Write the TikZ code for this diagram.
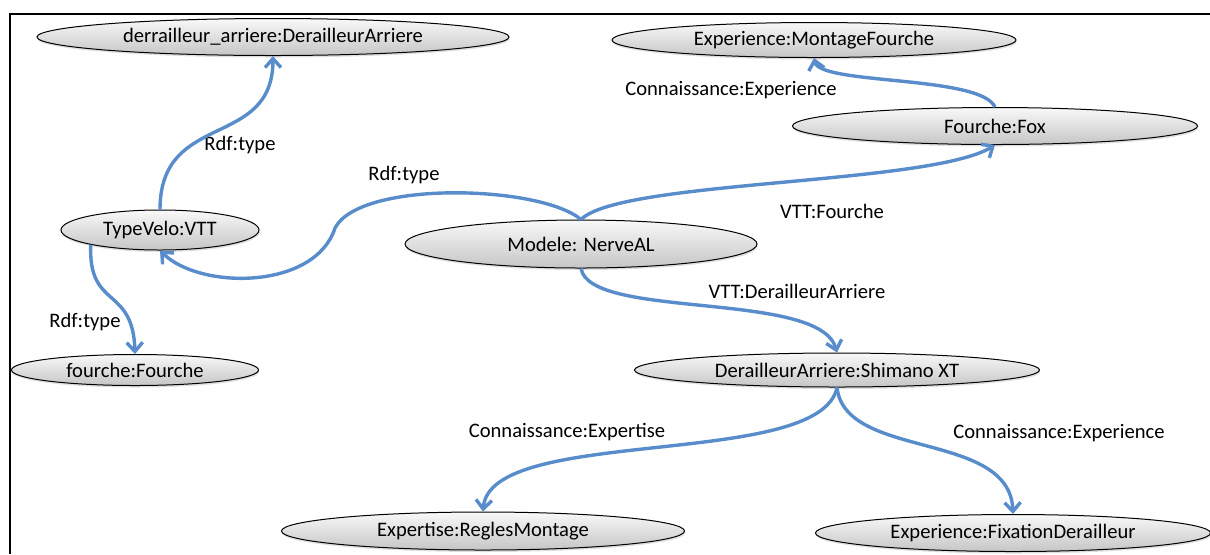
\documentclass[tikz,border=0pt]{standalone}
\usepackage{fontspec}
\setmainfont{Carlito}
\usepackage{tikz}
\usetikzlibrary{shapes.geometric,arrows.meta,shadows}
\definecolor{relblue}{RGB}{88,140,202}

\begin{document}
\begin{tikzpicture}[
  x=0.5pt, y=-0.5pt,
  font=\fontsize{10.3}{12}\selectfont,
  concept/.style={
    ellipse,
    draw=black,
    line width=0.5pt,
    top color=gray!5,
    bottom color=gray!45,
    inner sep=0pt,
    drop shadow={shadow xshift=0.3pt, shadow yshift=-1pt, opacity=0.25}
  },
  rel/.style={-{Straight Barb[length=4.5pt, width=8pt]}, draw=relblue, line width=1.7pt},
  lbl/.style={inner sep=0pt}
]
\useasboundingbox (0,0) rectangle (1210,554);
\draw[line width=1pt] (1210,14) -- (10,14) -- (10,554);

\node[concept, minimum width=236pt, minimum height=18.5pt] (derailleurarr) at (273,37) {derrailleur\_arriere:DerailleurArriere};
\node[concept, minimum width=202pt, minimum height=17.5pt] (montage) at (814,40) {Experience:MontageFourche};
\node[concept, minimum width=202.5pt, minimum height=18.5pt] (fox) at (995,126) {Fourche:Fox};
\node[concept, minimum width=99pt, minimum height=20pt] (typevelo) at (160,230) {TypeVelo:VTT};
\node[concept, minimum width=176pt, minimum height=24pt] (modele) at (581,244) {Modele: NerveAL};
\node[concept, minimum width=123.5pt, minimum height=15.5pt] (fourche) at (135,370) {fourche:Fourche};
\node[concept, minimum width=202.5pt, minimum height=17pt] (shimano) at (837,370) {DerailleurArriere:Shimano XT};
\node[concept, minimum width=201.5pt, minimum height=19pt] (regles) at (483,531) {Expertise:ReglesMontage};
\node[concept, minimum width=197.5pt, minimum height=18.5pt] (fixation) at (1013,533) {Experience:FixationDerailleur};

\node[lbl] (lbltype) at (240,145) {Rdf:type};
\node[lbl] (lblmodtype) at (404,175) {Rdf:type};
\node[lbl] (lblfourtype) at (85,322) {Rdf:type};
\node[lbl] (lblexpfox) at (731,90) {Connaissance:Experience};
\node[lbl] (lblvttfourche) at (832,211) {VTT:Fourche};
\node[lbl] (lblvttder) at (797,291) {VTT:DerailleurArriere};
\node[lbl] (lblexpertise) at (567,432) {Connaissance:Expertise};
\node[lbl] (lblexpfix) at (1059,433) {Connaissance:Experience};

\draw[rel] (typevelo.north) .. controls (160,110) and (273,150) .. (derailleurarr.south);
\draw[rel] (modele.north) .. controls (540,185) and (360,180) .. (335,228)
  .. controls (315,290) and (200,290) .. (typevelo.south);
\draw[rel] (modele.north) .. controls (620,180) and (930,185) .. (fox.south);
\draw[rel] (fox.north) .. controls (980,75) and (820,85) .. (montage.south);
\draw[rel] (typevelo.192) .. controls (88,310) and (133,285) .. (fourche.north);
\draw[rel] (modele.south) .. controls (590,320) and (820,290) .. (shimano.north);
\draw[rel] (shimano.south) .. controls (820,470) and (490,425) .. (regles.north);
\draw[rel] (shimano.south) .. controls (845,460) and (1010,430) .. (fixation.north);
\end{tikzpicture}
\end{document}
